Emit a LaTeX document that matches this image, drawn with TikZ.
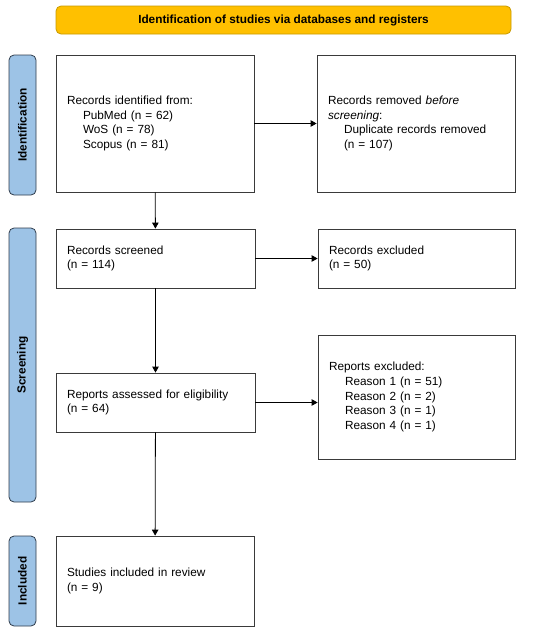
\documentclass[tikz,border=0pt]{standalone}
\usepackage{fontspec}
\setmainfont{Liberation Sans}
\usepackage{tikz}
\usetikzlibrary{positioning, arrows.meta}

\definecolor{bannerfill}{HTML}{FFC000}
\definecolor{bannerline}{HTML}{C79A00}
\definecolor{phasefill}{HTML}{9DC3E6}
\definecolor{phaseline}{HTML}{2F3C4C}
\definecolor{boxline}{HTML}{3A3A3A}

\tikzset{
    phase/.style={draw=phaseline, fill=phasefill, rounded corners=5pt, rotate=90,
        minimum height=27pt, inner sep=0pt, font=\fontsize{11.8}{14}\selectfont\bfseries},
    record/.style={draw=boxline, align=left, inner xsep=11pt, inner ysep=0pt,
        font=\fontsize{11.8}{14.8}\selectfont},
}

\begin{document}
\begin{tikzpicture}[x=1pt, y=-1pt, ->, >={Triangle[length=6pt, width=6.5pt]}, line width=0.8pt]
    \useasboundingbox (0,0) rectangle (550,635);
    % banner
    \node[draw=bannerline, fill=bannerfill, rounded corners=5pt, minimum width=455pt, minimum height=28pt,
        inner sep=0pt, font=\fontsize{11.8}{14}\selectfont\bfseries] (banner) at (283.5,20)
        {Identification of studies via databases and registers};
    % phases
    \node[phase, minimum width=140pt] (ident) at (22.5,125) {Identification};
    \node[phase, minimum width=274pt] (screen) at (22.5,365) {Screening};
    \node[phase, minimum width=90pt] (incl) at (22.5,581) {Included};
    % boxes
    \node[record, text width=176pt, minimum height=137pt] (found) at (155,123.5)
        {Records identified from:\\
        \hspace*{16pt}PubMed (n = 62)\\
        \hspace*{16pt}WoS (n = 78)\\
        \hspace*{16pt}Scopus (n = 81)};
    \node[record, text width=176pt, minimum height=137pt] (dupl) at (416,123.5)
        {Records removed \textit{before}\\
        \textit{screening}:\\
        \hspace*{16pt}Duplicate records removed\\
        \hspace*{16pt}(n = 107)};
    \node[record, text width=177pt, minimum height=59pt] (scrd) at (155.5,258.5)
        {Records screened\\(n = 114)};
    \node[record, text width=175pt, minimum height=59pt] (recx) at (416.5,258.5)
        {Records excluded\\(n = 50)};
    \node[record, text width=177pt, minimum height=59pt] (elig) at (155.5,402.5)
        {Reports assessed for eligibility\\(n = 64)};
    \node[record, text width=175pt, minimum height=124pt] (repx) at (416.5,397)
        {Reports excluded:\\
        \hspace*{16pt}Reason 1 (n = 51)\\
        \hspace*{16pt}Reason 2 (n = 2)\\
        \hspace*{16pt}Reason 3 (n = 1)\\
        \hspace*{16pt}Reason 4 (n = 1)};
    \node[record, text width=176pt, minimum height=90pt] (study) at (155,581)
        {Studies included in review\\(n = 9)};
    % arrows
    \draw (found) -- (dupl);
    \draw (found) -- (scrd);
    \draw (scrd) -- (recx);
    \draw (scrd) -- (elig);
    \draw (elig.east) -- (elig.east -| repx.west);
    \draw (elig) -- (study);
\end{tikzpicture}
\end{document}
